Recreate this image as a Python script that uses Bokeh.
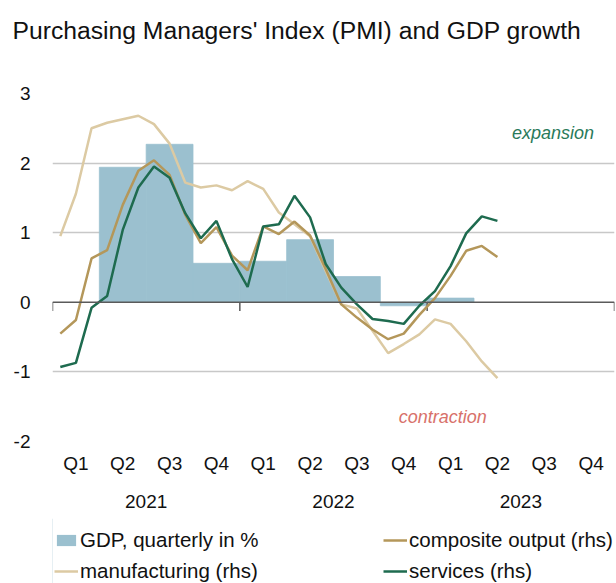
from bokeh.plotting import figure
from bokeh.layouts import column
from bokeh.models import (Range1d, FixedTicker, LinearAxis, Span, Legend, LegendItem,
                          ColumnDataSource, Title)
from bokeh.core.properties import value
from bokeh.embed import file_html
from bokeh.resources import INLINE

# ---------------- data ----------------
years = ["2021", "2022", "2023"]
quarter_names = ["Q1", "Q2", "Q3", "Q4"]

# GDP, quarterly growth in % (Q2 2021 .. Q1 2023)
gdp_quarters = ["2021Q2", "2021Q3", "2021Q4", "2022Q1", "2022Q2", "2022Q3", "2022Q4", "2023Q1"]
gdp_growth = [1.94, 2.27, 0.56, 0.59, 0.90, 0.37, -0.05, 0.06]

# monthly PMI readings (Jan 2021 .. May 2023), plotted on the chart scale
months = [f"{y}-{m:02d}" for y in (2021, 2022) for m in range(1, 13)] + [f"2023-{m:02d}" for m in range(1, 6)]
manufacturing = [0.95, 1.56, 2.50, 2.58, 2.63, 2.68, 2.56, 2.28, 1.72, 1.65, 1.68, 1.61,
                 1.74, 1.63, 1.29, 1.12, 0.95, 0.45, -0.03, -0.09, -0.41, -0.73, -0.60, -0.46,
                 -0.245, -0.31, -0.56, -0.85, -1.09]
composite = [-0.45, -0.255, 0.63, 0.75, 1.40, 1.89, 2.04, 1.83, 1.26, 0.85, 1.08, 0.67,
             0.46, 1.09, 0.98, 1.16, 0.96, 0.48, -0.03, -0.22, -0.39, -0.53, -0.45, -0.18,
             0.06, 0.38, 0.74, 0.81, 0.65]
services = [-0.93, -0.87, -0.08, 0.09, 1.04, 1.65, 1.95, 1.79, 1.28, 0.92, 1.17, 0.62,
            0.22, 1.09, 1.12, 1.53, 1.22, 0.55, 0.21, -0.03, -0.24, -0.27, -0.31, -0.05,
            0.16, 0.52, 0.99, 1.235, 1.17]

y_ticks = [-2, -1, 0, 1, 2, 3]
y_tick_labels = ["-2", "-1", "0", "1", "2", "3"]

# ---------------- derived positions (month index units) ----------------
n_years = len(years)
month_x = [i + 0.5 for i in range(len(months))]
q_index = {f"{y}Q{q + 1}": yi * 4 + q for yi, y in enumerate(years) for q in range(4)}
gdp_x = [q_index[q] * 3 + 1.5 for q in gdp_quarters]
q_centers = [i * 3 + 1.5 for i in range(n_years * 4)]
q_labels = [quarter_names[i % 4] for i in range(n_years * 4)]
year_centers = [i * 12 + 6 for i in range(n_years)]
year_bounds = [i * 12 for i in range(n_years + 1)]

FONT = "Liberation Sans"
C_GDP = "#9bc0cf"
C_COMP = "#b4975a"
C_MANU = "#dccaa3"
C_SERV = "#1e6b4f"
C_TEXT = "#111111"

W = 616
H_MAIN = 518
H_LEG = 65

p = figure(width=W, height=H_MAIN, output_backend="svg", toolbar_location=None, title=None,
           x_range=Range1d(0, n_years * 12), y_range=Range1d(-2, 3),
           min_border_left=52, min_border_right=2, min_border_top=93, min_border_bottom=77,
           background_fill_color="white", border_fill_color="white")
p.outline_line_color = None

# spacer (nearest the frame) and the title above it
spacer = Title(text=" ", text_font=FONT, text_font_size="24px", standoff=7)
p.add_layout(spacer, "above")
title = Title(text="Purchasing Managers' Index (PMI) and GDP growth", text_font=FONT,
              text_font_size="24.7px", text_font_style="normal", text_color=C_TEXT,
              offset=-40, standoff=27)
p.add_layout(title, "above")

# y axis
p.yaxis.ticker = FixedTicker(ticks=y_ticks)
p.yaxis.major_label_overrides = {t: l for t, l in zip(y_ticks, y_tick_labels)}
p.yaxis.major_tick_line_color = None
p.yaxis.major_tick_out = 0
p.yaxis.minor_tick_line_color = None
p.yaxis.minor_tick_out = 0
p.yaxis.axis_line_color = None
p.yaxis.major_label_standoff = 22
p.yaxis.major_label_text_font = FONT
p.yaxis.major_label_text_font_size = "19px"
p.yaxis.major_label_text_color = C_TEXT

p.ygrid.ticker = FixedTicker(ticks=[t for t in y_ticks if t != 0])
p.ygrid.grid_line_color = "#c8c8c8"
p.ygrid.grid_line_width = 1.5
p.xgrid.grid_line_color = None

# quarter axis
p.xaxis.ticker = FixedTicker(ticks=q_centers)
p.xaxis.major_label_overrides = {c: l for c, l in zip(q_centers, q_labels)}
p.xaxis.major_tick_line_color = None
p.xaxis.major_tick_out = 0
p.xaxis.minor_tick_line_color = None
p.xaxis.minor_tick_out = 0
p.xaxis.axis_line_color = None
p.xaxis.major_label_standoff = 11
p.xaxis.major_label_text_font = FONT
p.xaxis.major_label_text_font_size = "19px"
p.xaxis.major_label_text_color = C_TEXT

# year axis
yax = LinearAxis(ticker=FixedTicker(ticks=year_centers),
                 major_label_overrides={c: y for c, y in zip(year_centers, years)})
yax.major_tick_line_color = None
yax.major_tick_out = 0
yax.minor_tick_line_color = None
yax.minor_tick_out = 0
yax.axis_line_color = None
yax.major_label_standoff = 18
yax.major_label_text_font = FONT
yax.major_label_text_font_size = "19px"
yax.major_label_text_color = C_TEXT
p.add_layout(yax, "below")

# GDP bars (outline in the fill colour so adjacent bars join without seams)
bars = p.vbar(x=gdp_x, top=gdp_growth, bottom=0, width=3, fill_color=C_GDP,
              line_color=C_GDP, line_width=0.8)

# zero line and year boundary ticks
p.add_layout(Span(location=0, dimension="width", line_color="#5a5a5a", line_width=1.5))
p.segment(x0=year_bounds, y0=[0] * len(year_bounds), x1=year_bounds,
          y1=[-0.125] * len(year_bounds), line_color="#5a5a5a", line_width=1.5)

# PMI lines
src = ColumnDataSource(dict(x=month_x, manu=manufacturing, comp=composite, serv=services))
p.line("x", "manu", source=src, line_color=C_MANU, line_width=2.5)
p.line("x", "comp", source=src, line_color=C_COMP, line_width=2.5)
p.line("x", "serv", source=src, line_color=C_SERV, line_width=2.5)

# annotations
p.text(x=[32.06], y=[2.43], text=["expansion"], text_font=value(FONT), text_font_style="italic",
       text_font_size="18px", text_color="#2a7a5a", text_align="center", text_baseline="middle")
p.text(x=[25.0], y=[-1.65], text=["contraction"], text_font=value(FONT), text_font_style="italic",
       text_font_size="18px", text_color="#d8716a", text_align="center", text_baseline="middle")

# ---------------- legend strip ----------------
lf = figure(width=W, height=H_LEG, output_backend="svg", toolbar_location=None, title=None,
            x_axis_type=None, y_axis_type=None, x_range=Range1d(0, 1), y_range=Range1d(0, 1),
            min_border=0, background_fill_color="white", border_fill_color="white")
lf.outline_line_color = None
lf.grid.visible = False

# legend keys: renderers styled like the chart's series, kept outside the visible range
off = [-5.0, -4.0]
k_gdp = lf.vbar(x=off[:1], top=[1], width=1, fill_color=C_GDP, line_color=None)
k_comp = lf.line(x=off, y=[0.5, 0.5], line_color=C_COMP, line_width=2.5)
k_manu = lf.line(x=off, y=[0.5, 0.5], line_color=C_MANU, line_width=2.5)
k_serv = lf.line(x=off, y=[0.5, 0.5], line_color=C_SERV, line_width=2.5)


def make_legend(items, loc):
    lg = Legend(items=items, orientation="vertical", location=loc)
    lg.label_text_font = FONT
    lg.label_text_font_size = "20.5px"
    lg.label_text_color = C_TEXT
    lg.glyph_width = 24
    lg.glyph_height = 14
    lg.label_standoff = 2
    lg.spacing = 7
    lg.padding = 0
    lg.margin = 0
    lg.border_line_color = None
    lg.background_fill_alpha = 0
    return lg


lf.add_layout(make_legend([LegendItem(label="GDP, quarterly in %", renderers=[k_gdp]),
                           LegendItem(label="manufacturing (rhs)", renderers=[k_manu])], (2, 0)), "center")
lf.add_layout(make_legend([LegendItem(label="composite output (rhs)", renderers=[k_comp]),
                           LegendItem(label="services (rhs)", renderers=[k_serv])], (331, 0)), "center")

layout = column(p, lf, spacing=0)
open("out.html", "w").write(file_html(layout, INLINE))
